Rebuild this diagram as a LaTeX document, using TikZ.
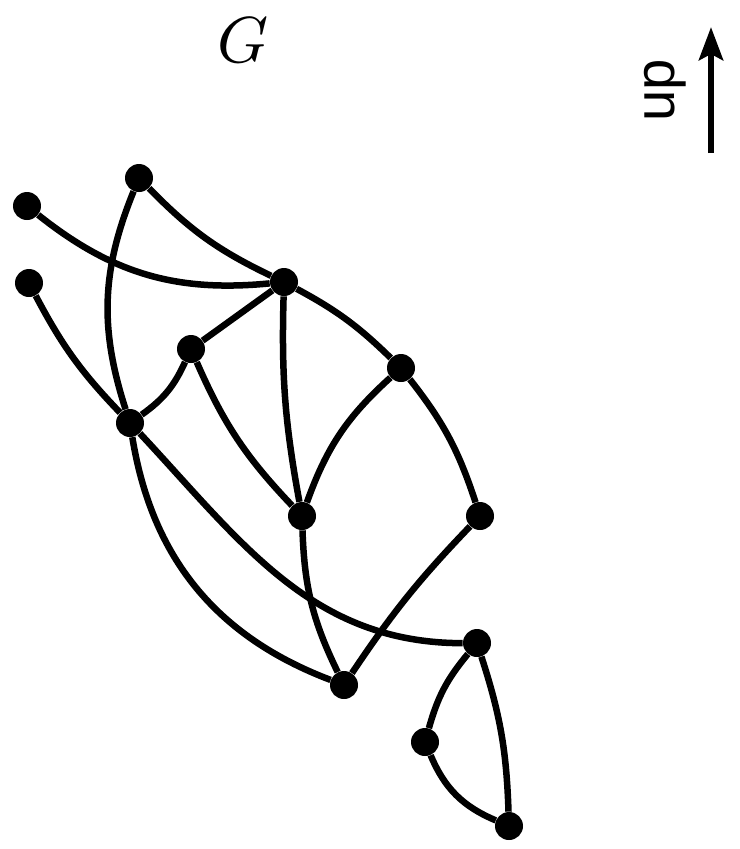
\documentclass[tikz,border=0pt]{standalone}
\usepackage{fontspec}
\newfontfamily\labelfont{Liberation Sans}
\usetikzlibrary{arrows.meta, positioning}

\begin{document}
\begin{tikzpicture}[
    x=0.2mm, y=-0.2mm,
    vertex/.style={circle, fill=black, inner sep=0pt, minimum size=5.6mm},
    edge/.style={line width=1.3mm}
]
    \useasboundingbox (0,0) rectangle (740,849);

    % title and direction marker
    \node[scale=3.7] (title) at (243,40) {$G$};
    \node[rotate=90, inner sep=0pt, scale=3.2, font=\labelfont] (uplabel) at (665,90) {up};
    \coordinate (uptail) at (711,153);
    \coordinate (uphead) at (711,27);
    \draw[edge, -{Stealth[length=6.6mm, width=4.8mm, inset=1.2mm]}] (uptail) -- (uphead);

    % vertices
    \node[vertex] (a) at (27,206) {};
    \node[vertex] (b) at (139,178) {};
    \node[vertex] (c) at (29,283) {};
    \node[vertex] (d) at (284,282) {};
    \node[vertex] (e) at (191,349) {};
    \node[vertex] (f) at (401,368) {};
    \node[vertex] (g) at (130,423) {};
    \node[vertex] (h) at (302,516) {};
    \node[vertex] (i) at (480,516) {};
    \node[vertex] (j) at (477,643) {};
    \node[vertex] (k) at (344,685) {};
    \node[vertex] (l) at (425,742) {};
    \node[vertex] (m) at (509,826) {};

    % edges
    \draw[edge] (a) to[bend right=22] (d);
    \draw[edge] (b) to[bend right=10] (d);
    \draw[edge] (b) to[bend right=20] (g);
    \draw[edge] (c) to[bend right=8] (g);
    \draw[edge] (d) -- (e);
    \draw[edge] (d) to[bend right=6] (h);
    \draw[edge] (d) to[bend left=8] (f);
    \draw[edge] (e) to[bend left=15] (g);
    \draw[edge] (e) to[bend right=10] (h);
    \draw[edge] (f) to[bend right=14] (h);
    \draw[edge] (f) to[bend left=10] (i);
    \draw[edge] (g) to[bend right=30] (k);
    \draw[edge] (g) to[relative, out=-14, in=-147] (j);
    \draw[edge] (h) to[bend right=12] (k);
    \draw[edge] (i) to[bend right=5] (k);
    \draw[edge] (j) to[bend right=12] (l);
    \draw[edge] (j) to[bend left=8] (m);
    \draw[edge] (l) to[bend right=22] (m);
\end{tikzpicture}
\end{document}
